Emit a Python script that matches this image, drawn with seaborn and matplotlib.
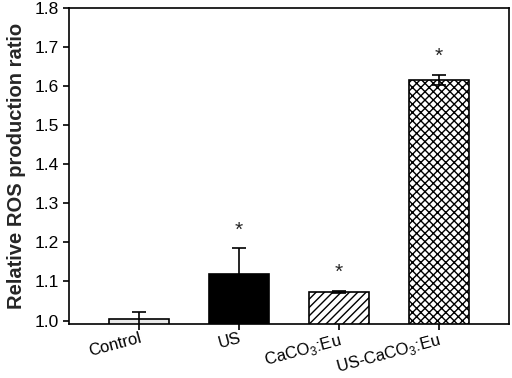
import matplotlib
matplotlib.use("Agg")
import matplotlib.pyplot as plt
import seaborn as sns
import pandas as pd
import numpy as np

# values
groups = ['Control', 'US', r'CaCO$_\mathregular{3}$:Eu', r'US-CaCO$_\mathregular{3}$:Eu']
ratio = [1.003, 1.119, 1.073, 1.615]
ratio_err = [0.019, 0.066, 0.003, 0.013]
significant = [False, True, True, True]

fills = ['#e8e8e8', 'black', 'white', 'white']
hatches = ['', '', '////', 'xxxx']

sns.set_style("ticks")
plt.rcParams['font.family'] = ['Liberation Sans', 'DejaVu Sans']
plt.rcParams['hatch.linewidth'] = 1.0

df = pd.DataFrame({'Group': groups, 'Ratio': ratio})

fig, ax = plt.subplots(figsize=(5.12, 3.78), dpi=100)
fig.subplots_adjust(left=0.135, right=0.995, top=0.98, bottom=0.143)

sns.barplot(ax=ax, data=df, x='Group', y='Ratio', order=groups, width=0.6,
            errorbar=None, color='white', edgecolor='black', linewidth=1.2)
for bar, fc, h in zip(ax.patches, fills, hatches):
  bar.set_facecolor(fc)
  bar.set_hatch(h)

ax.errorbar(np.arange(len(groups)), ratio, yerr=ratio_err, fmt='none',
            ecolor='black', elinewidth=1.2, capsize=5, capthick=1.2, zorder=5)

for i, (v, e, s) in enumerate(zip(ratio, ratio_err, significant)):
  if s:
    ax.text(i, v + e + 0.022, '*', ha='center', va='bottom', fontsize=15)

ax.set_ylim(0.9915, 1.8)
ax.set_xlim(-0.7, 3.71)
yt = np.arange(1.0, 1.81, 0.1)
ax.set_yticks(yt)
ax.set_yticklabels([f'{t:.1f}' for t in yt], fontsize=12.5)
ax.set_xticks(range(len(groups)))
ax.set_xticklabels(groups, rotation=15, ha='right', rotation_mode='anchor', fontsize=12)
ax.set_xlabel('')
ax.set_ylabel('Relative ROS production ratio', fontsize=14.5, fontweight='bold', labelpad=6)
for sp in ax.spines.values():
  sp.set_visible(True)
  sp.set_linewidth(1.2)
  sp.set_color('black')
ax.tick_params(axis='both', direction='out', length=4, width=1.2, colors='black')
ax.tick_params(axis='x', pad=1)

fig.savefig('out.png', dpi=100)
